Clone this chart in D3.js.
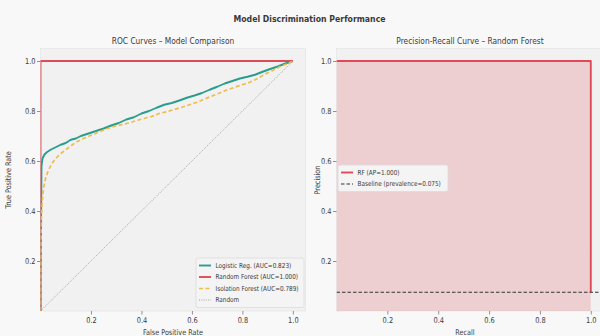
<!DOCTYPE html>
<html>
<head>
<meta charset="utf-8">
<script src="https://cdn.jsdelivr.net/npm/d3@7"></script>
<style>
	body { margin: 0; background: #f8f8f8; }
	text { font-family: "DejaVu Sans", sans-serif; fill: #3a3a3a; }
</style>
</head>
<body>
<svg id="chart" width="600" height="336"></svg>
<script>
// ROC curve points
var lrFpr = [0, 0.002, 0.004, 0.008, 0.015, 0.025, 0.04, 0.06, 0.08, 0.10, 0.12, 0.14, 0.16, 0.19, 0.22, 0.25, 0.28, 0.31, 0.34, 0.37, 0.40, 0.43, 0.46, 0.49, 0.52, 0.55, 0.58, 0.61, 0.64, 0.67, 0.70, 0.73, 0.76, 0.79, 0.82, 0.85, 0.88, 0.91, 0.94, 0.97, 1.0];
var lrTpr = [0, 0.35, 0.58, 0.61, 0.625, 0.635, 0.645, 0.655, 0.665, 0.672, 0.685, 0.69, 0.70, 0.71, 0.72, 0.73, 0.742, 0.752, 0.766, 0.775, 0.79, 0.80, 0.813, 0.825, 0.832, 0.842, 0.853, 0.862, 0.872, 0.885, 0.897, 0.91, 0.92, 0.93, 0.937, 0.945, 0.957, 0.968, 0.978, 0.99, 1.0];

var ifFpr = [0, 0.001, 0.002, 0.004, 0.007, 0.012, 0.02, 0.03, 0.045, 0.06, 0.08, 0.10, 0.12, 0.14, 0.17, 0.20, 0.23, 0.26, 0.29, 0.32, 0.35, 0.38, 0.41, 0.44, 0.47, 0.50, 0.53, 0.56, 0.59, 0.62, 0.65, 0.68, 0.71, 0.74, 0.77, 0.80, 0.83, 0.86, 0.89, 0.92, 0.95, 0.98, 1.0];
var ifTpr = [0, 0.15, 0.28, 0.38, 0.44, 0.49, 0.53, 0.56, 0.59, 0.61, 0.63, 0.645, 0.66, 0.675, 0.69, 0.703, 0.715, 0.728, 0.738, 0.745, 0.752, 0.762, 0.77, 0.778, 0.79, 0.797, 0.806, 0.815, 0.825, 0.835, 0.848, 0.86, 0.872, 0.885, 0.895, 0.905, 0.915, 0.93, 0.948, 0.962, 0.978, 0.99, 1.0];

var rfFpr = [0, 0, 1];
var rfTpr = [0, 1, 1];
var diagonal = [0, 1];

// precision-recall of the random forest
var prRecall = [0, 1, 1];
var prPrecision = [1, 1, 0.075];
var prevalence = 0.075;

var rocLabels = ['Logistic Reg. (AUC=0.823)', 'Random Forest (AUC=1.000)', 'Isolation Forest (AUC=0.789)', 'Random'];
var prLabels = ['RF (AP=1.000)', 'Baseline (prevalence=0.075)'];
var tickValues = [0.2, 0.4, 0.6, 0.8, 1.0];

var colors = { lr: '#2a9d8f', rf: '#e04a58', iso: '#ecbd4f', rnd: '#8c8c8c' };
var K = 0.83;   // text looks horizontally squeezed in the picture

var svg = d3.select('#chart');
svg.append('rect').attr('width', 600).attr('height', 336).attr('fill', '#f8f8f8');

function label(g, x, y, str, size, opts)
{
	opts = opts || {};
	return g.append('text')
		.attr('transform', 'translate(' + x + ',' + y + ')' + (opts.rotate ? ' rotate(' + opts.rotate + ')' : '') + ' scale(' + K + ',1)')
		.attr('text-anchor', opts.anchor || 'middle')
		.attr('font-size', size)
		.attr('font-weight', opts.bold ? 'bold' : null)
		.text(str);
}

function makeAxes(x0, x1, id)
{
	var top = 48.5, bottom = 311;
	var x = d3.scaleLinear().domain([0, 1.05]).range([x0, x1]);
	var y = d3.scaleLinear().domain([0, 1.05]).range([bottom, top]);
	var g = svg.append('g');

	g.append('rect')
		.attr('x', x0).attr('y', top).attr('width', x1 - x0).attr('height', bottom - top)
		.attr('fill', '#f1f1f1').attr('stroke', '#e6e6e6').attr('stroke-width', 0.8);

	svg.append('clipPath').attr('id', id)
		.append('rect').attr('x', x0).attr('y', top).attr('width', x1 - x0).attr('height', bottom - top);

	var xa = g.append('g').attr('transform', 'translate(0,' + bottom + ')')
		.call(d3.axisBottom(x).tickValues(tickValues).tickFormat(d3.format('.1f')).tickSize(3.5).tickPadding(2.5));
	var ya = g.append('g').attr('transform', 'translate(' + x0 + ',0)')
		.call(d3.axisLeft(y).tickValues(tickValues).tickFormat(d3.format('.1f')).tickSize(3.5).tickPadding(2.5));

	[xa, ya].forEach(function(a) {
		a.select('.domain').remove();
		a.selectAll('line').attr('stroke', '#666').attr('stroke-width', 0.7);
		a.selectAll('text').attr('font-size', 8).attr('fill', '#444')
			.attr('font-family', '"DejaVu Sans", sans-serif')
			.attr('transform', 'scale(' + K + ',1)');
	});

	var plot = g.append('g').attr('clip-path', 'url(#' + id + ')');
	return { x: x, y: y, g: g, plot: plot, x0: x0, x1: x1, top: top, bottom: bottom };
}

function drawLine(ax, xs, ys, color, width, dash)
{
	var line = d3.line()
		.x(function(d) { return ax.x(d[0]); })
		.y(function(d) { return ax.y(d[1]); });
	return ax.plot.append('path')
		.datum(d3.zip(xs, ys))
		.attr('d', line)
		.attr('fill', 'none')
		.attr('stroke', color)
		.attr('stroke-width', width)
		.attr('stroke-dasharray', dash || null)
		.attr('stroke-linejoin', 'round');
}

function legend(g, x, y, w, items)
{
	var rowH = 11.5;
	g.append('rect')
		.attr('x', x).attr('y', y).attr('width', w).attr('height', items.length * rowH + 3.5)
		.attr('rx', 2).attr('fill', '#f4f4f4').attr('stroke', '#dcdcdc').attr('stroke-width', 0.8);

	var rows = g.selectAll('g.leg').data(items).enter().append('g')
		.attr('transform', function(d, i) {
			return 'translate(' + x + ',' + (y + 7.5 + i * rowH) + ')';
		});

	rows.append('line')
		.attr('x1', 3).attr('x2', 15).attr('y1', 0).attr('y2', 0)
		.attr('stroke', function(d) { return d.color; })
		.attr('stroke-width', function(d) { return d.width; })
		.attr('stroke-dasharray', function(d) { return d.dash || null; });

	rows.each(function(d) {
		label(d3.select(this), 19.5, 2.4, d.text, 6.9, { anchor: 'start' });
	});
}

// title
label(svg, 309.5, 21.5, 'Model Discrimination Performance', 9.4, { bold: true }).attr('fill', '#222');

// ---- ROC panel
var roc = makeAxes(40.5, 305.5, 'clipRoc');
drawLine(roc, lrFpr, lrTpr, colors.lr, 1.9);
drawLine(roc, rfFpr, rfTpr, colors.rf, 1.9);
drawLine(roc, ifFpr, ifTpr, colors.iso, 1.7, '4,2.5');
drawLine(roc, diagonal, diagonal, colors.rnd, 0.8, '1,1.3');

label(svg, 173, 43.5, 'ROC Curves \u2013 Model Comparison', 9);
label(svg, 173, 334.5, 'False Positive Rate', 7.8);
label(svg, 10.5, 180, 'True Positive Rate', 7.8, { rotate: -90 });

legend(roc.g, 196, 258, 108, [
	{ text: rocLabels[0], color: colors.lr, width: 1.9 },
	{ text: rocLabels[1], color: colors.rf, width: 1.9 },
	{ text: rocLabels[2], color: colors.iso, width: 1.7, dash: '4,2.5' },
	{ text: rocLabels[3], color: colors.rnd, width: 0.8, dash: '1,1.3' }
]);

// ---- PR panel
var pr = makeAxes(336.5, 603.5, 'clipPr');
pr.plot.append('path')
	.datum(d3.zip(prRecall.slice(0, 2), prPrecision.slice(0, 2)))
	.attr('d', d3.area()
		.x(function(d) { return pr.x(d[0]); })
		.y0(pr.y(0))
		.y1(function(d) { return pr.y(d[1]); }))
	.attr('fill', colors.rf).attr('fill-opacity', 0.2);
drawLine(pr, prRecall, prPrecision, colors.rf, 1.9);
drawLine(pr, [0, 1.05], [prevalence, prevalence], '#333', 1.2, '3.5,2');

label(svg, 470, 43.5, 'Precision-Recall Curve \u2013 Random Forest', 9);
label(svg, 465, 334.5, 'Recall', 7.8);
label(svg, 320, 180, 'Precision', 7.8, { rotate: -90 });

legend(pr.g, 338, 165, 110, [
	{ text: prLabels[0], color: colors.rf, width: 1.9 },
	{ text: prLabels[1], color: '#333', width: 1.2, dash: '3.5,2' }
]);
</script>
</body>
</html>
